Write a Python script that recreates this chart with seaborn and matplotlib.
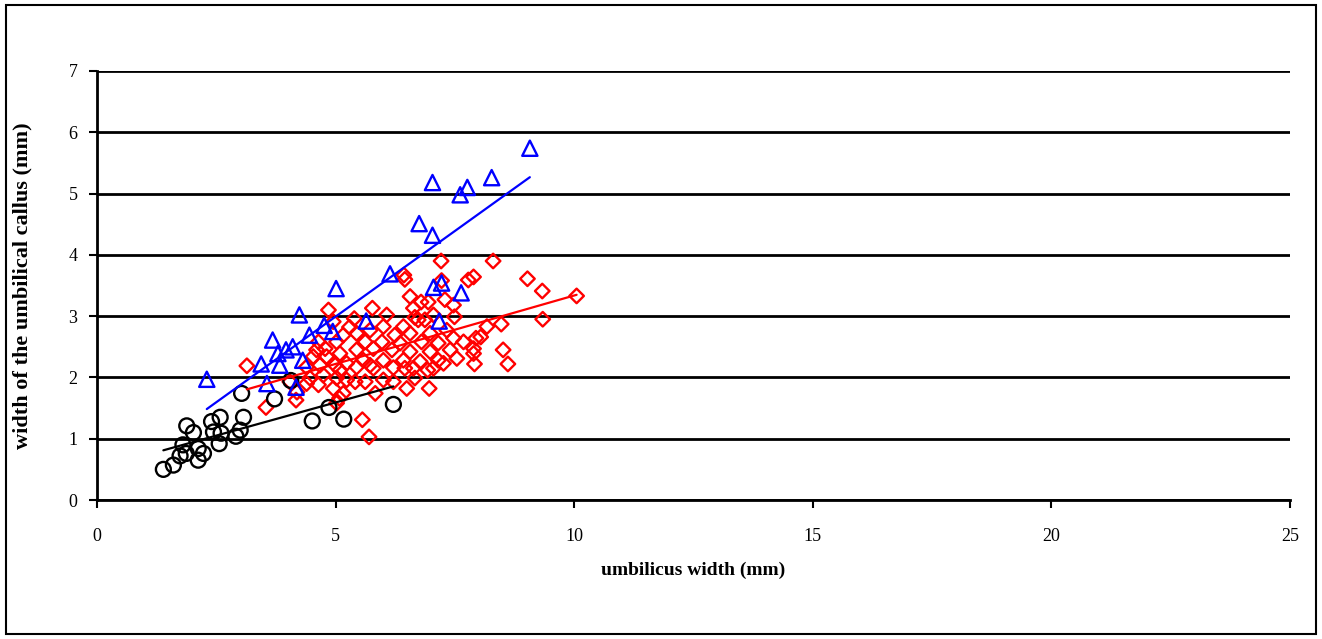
import numpy as np
import pandas as pd
import seaborn as sns
import matplotlib.pyplot as plt
from matplotlib.patches import Rectangle

# umbilicus width (mm) vs width of the umbilical callus (mm), three groups
black_x = [1.39, 1.60, 1.74, 1.87, 1.80, 2.12, 2.23, 2.12, 2.56, 1.88, 2.02, 2.40, 2.58,
           2.44, 2.60, 2.91, 3.00, 3.07, 3.03, 3.72, 4.06, 4.51, 4.86, 5.17, 6.21]
black_y = [0.50, 0.57, 0.72, 0.76, 0.90, 0.65, 0.76, 0.84, 0.92, 1.21, 1.10, 1.28, 1.35,
           1.11, 1.09, 1.04, 1.14, 1.35, 1.74, 1.65, 1.95, 1.29, 1.51, 1.32, 1.56]

blue_x = [2.30, 3.44, 3.56, 4.17, 3.79, 3.83, 3.68, 3.96, 4.10, 4.31, 4.24, 4.45, 4.76, 4.94,
          5.01, 5.64, 6.14, 6.75, 7.03, 7.03, 7.61, 7.76, 8.27, 9.07, 7.05, 7.22, 7.63, 7.17]
blue_y = [1.97, 2.22, 1.90, 1.84, 2.39, 2.20, 2.61, 2.45, 2.50, 2.28, 3.02, 2.69, 2.85, 2.75,
          3.45, 2.92, 3.69, 4.51, 4.32, 5.18, 4.98, 5.10, 5.26, 5.74, 3.47, 3.54, 3.38, 2.92]

red_x = [3.14, 3.54, 4.17, 5.56, 5.70, 7.21, 8.30, 6.43, 6.45, 7.22, 7.89, 7.78, 9.02, 9.33,
         10.05, 9.34, 8.47, 8.51, 8.61, 7.91, 7.54, 8.17, 8.04, 7.94, 7.68, 7.89, 7.49, 7.29,
         6.96, 6.49, 6.93, 6.56, 6.07, 5.77, 6.73, 7.05, 5.39, 5.29, 6.79, 6.94, 6.66, 6.87,
         6.42, 6.00, 5.72, 5.44, 6.24, 6.56, 6.98, 7.33, 7.47, 5.62, 5.97, 6.35, 6.80, 7.15,
         5.44, 5.79, 6.18, 6.56, 6.98, 7.40, 5.58, 6.00, 6.42, 6.77, 7.15, 5.79, 6.21, 6.63,
         7.05, 4.85, 4.95, 4.64, 4.78, 5.02, 5.16, 4.53, 4.81, 5.09, 4.67, 4.99, 5.23, 4.39,
         5.09, 4.74, 4.46, 5.02, 5.23, 4.64, 4.39, 4.04, 4.95, 5.16, 5.08, 5.02, 5.44, 5.72,
         6.45, 7.26, 5.41, 5.62, 5.83, 6.00, 6.21, 6.66, 4.60, 4.19, 7.47, 6.63, 7.89]
red_y = [2.19, 1.51, 1.63, 1.31, 1.03, 3.90, 3.90, 3.67, 3.60, 3.58, 3.64, 3.59, 3.61, 3.41,
         3.33, 2.95, 2.87, 2.45, 2.22, 2.22, 2.31, 2.83, 2.66, 2.64, 2.58, 2.47, 2.99, 3.27,
         1.82, 1.82, 2.12, 3.32, 3.02, 3.13, 2.94, 3.02, 2.96, 2.82, 3.23, 3.23, 2.98, 2.94,
         2.83, 2.83, 2.77, 2.72, 2.69, 2.72, 2.72, 2.77, 2.64, 2.58, 2.58, 2.56, 2.58, 2.56,
         2.45, 2.47, 2.45, 2.42, 2.42, 2.45, 2.28, 2.28, 2.28, 2.26, 2.28, 2.15, 2.16, 2.15,
         2.15, 3.10, 2.91, 2.58, 2.47, 2.58, 2.69, 2.34, 2.34, 2.39, 2.20, 2.20, 2.23, 2.17,
         2.12, 2.04, 1.99, 1.99, 1.96, 1.88, 1.90, 1.93, 1.82, 1.74, 1.66, 1.58, 2.17, 2.20,
         2.15, 2.23, 1.93, 1.93, 1.74, 1.96, 1.93, 1.99, 2.45, 1.76, 3.18, 3.13, 2.39]

x_ticks = [0, 5, 10, 15, 20, 25]
y_ticks = [0, 1, 2, 3, 4, 5, 6, 7]

sns.set_style("white")
plt.rcParams['font.family'] = ['Liberation Serif', 'DejaVu Serif']
plt.rcParams['font.size'] = 13
plt.rcParams['text.color'] = 'black'
plt.rcParams['axes.labelcolor'] = 'black'
plt.rcParams['xtick.color'] = 'black'
plt.rcParams['ytick.color'] = 'black'

fig = plt.figure(figsize=(13.22, 6.39), dpi=100)
ax = fig.add_axes([0.0734, 0.2175, 0.9024, 0.6714])

groups = [
    (red_x, red_y, "red", "D", 55),
    (black_x, black_y, "black", "o", 115),
    (blue_x, blue_y, "blue", "^", 120),
]
for gx, gy, col, mk, size in groups:
    df = pd.DataFrame({"x": gx, "y": gy})
    sns.scatterplot(data=df, x="x", y="y", marker=mk, s=size, facecolors="none",
                    edgecolor=col, linewidth=1.7, ax=ax, zorder=3)
    sns.regplot(data=df, x="x", y="y", scatter=False, ci=None, truncate=True,
                line_kws={"color": col, "lw": 1.6, "zorder": 4}, ax=ax)

ax.set_xlim(0, 25)
ax.set_ylim(0, 7)
ax.set_xticks(x_ticks)
ax.set_yticks(y_ticks)
ax.yaxis.grid(True, color="black", lw=2)
ax.xaxis.grid(False)
ax.set_axisbelow(True)

for side in ["top", "right"]:
    ax.spines[side].set_visible(False)
for side in ["left", "bottom"]:
    ax.spines[side].set_color("black")
    ax.spines[side].set_linewidth(2)

ax.tick_params(axis="x", bottom=True, direction="out", length=6, width=1.5, pad=14, labelsize=13)
ax.tick_params(axis="y", left=True, direction="out", length=6, width=1.5, pad=8, labelsize=13)

ax.set_xlabel("umbilicus width (mm)", fontsize=14, fontweight="bold", labelpad=12)
ax.set_ylabel("width of the umbilical callus (mm)", fontsize=16, fontweight="bold", labelpad=26)

fig.patches.append(Rectangle((6 / 1322, 5 / 639), 1310 / 1322, 629 / 639,
                             transform=fig.transFigure, fill=False, ec="black", lw=1.5))

fig.savefig("out.png", dpi=100)
